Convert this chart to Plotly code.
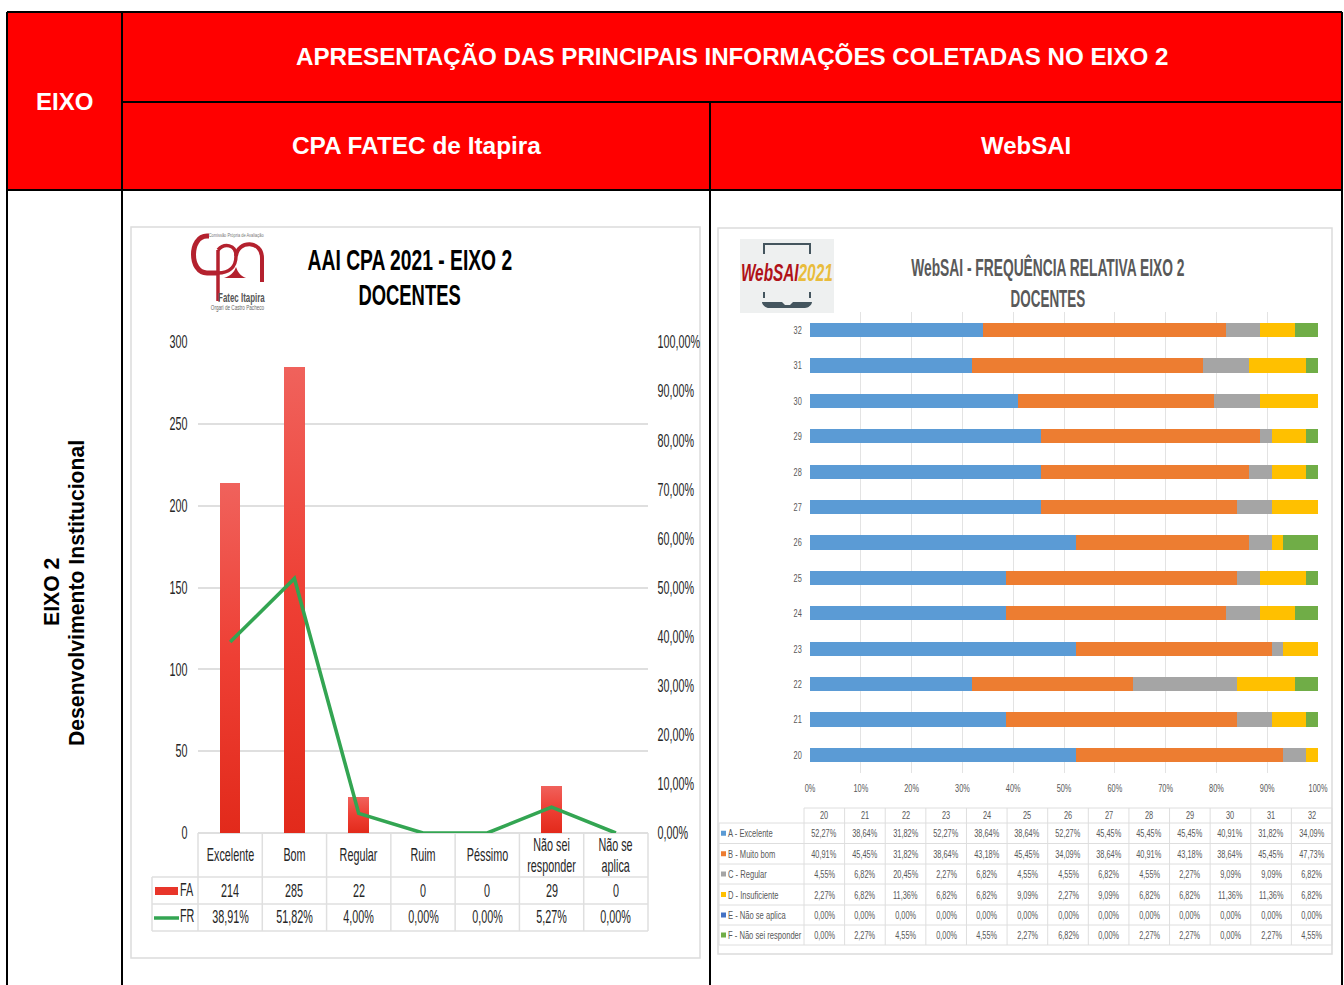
import json
import plotly.graph_objects as go

W, H = 1344, 985
ARIAL = "Liberation Sans, Arial, sans-serif"

# ---- data: left chart
cpa_categories = ["Excelente", "Bom", "Regular", "Ruim", "Péssimo", "Não sei responder", "Não se aplica"]
cpa_category_lines = [["Excelente"], ["Bom"], ["Regular"], ["Ruim"], ["Péssimo"], ["Não sei", "responder"], ["Não se", "aplica"]]
cpa_fa = [214, 285, 22, 0, 0, 29, 0]
cpa_fr = [38.91, 51.82, 4.00, 0.00, 0.00, 5.27, 0.00]
cpa_fa_labels = ["214", "285", "22", "0", "0", "29", "0"]
cpa_fr_labels = ["38,91%", "51,82%", "4,00%", "0,00%", "0,00%", "5,27%", "0,00%"]
fr_tick_vals = [0, 10, 20, 30, 40, 50, 60, 70, 80, 90, 100]
fr_tick_text = ["0,00%", "10,00%", "20,00%", "30,00%", "40,00%", "50,00%", "60,00%", "70,00%", "80,00%", "90,00%", "100,00%"]
fa_tick_vals = [0, 50, 100, 150, 200, 250, 300]

# ---- data: right chart
questions = ["20", "21", "22", "23", "24", "25", "26", "27", "28", "29", "30", "31", "32"]
web_a = [52.27, 38.64, 31.82, 52.27, 38.64, 38.64, 52.27, 45.45, 45.45, 45.45, 40.91, 31.82, 34.09]
web_b = [40.91, 45.45, 31.82, 38.64, 43.18, 45.45, 34.09, 38.64, 40.91, 43.18, 38.64, 45.45, 47.73]
web_c = [4.55, 6.82, 20.45, 2.27, 6.82, 4.55, 4.55, 6.82, 4.55, 2.27, 9.09, 9.09, 6.82]
web_d = [2.27, 6.82, 11.36, 6.82, 6.82, 9.09, 2.27, 9.09, 6.82, 6.82, 11.36, 11.36, 6.82]
web_e = [0.00] * 13
web_f = [0.00, 2.27, 4.55, 0.00, 4.55, 2.27, 6.82, 0.00, 2.27, 2.27, 0.00, 2.27, 4.55]
web_names = ["A - Excelente", "B - Muito bom", "C - Regular", "D - Insuficiente", "E - Não se aplica", "F - Não sei responder"]
web_series = [web_a, web_b, web_c, web_d, web_e, web_f]
web_colors = ["#5B9BD5", "#ED7D31", "#A5A5A5", "#FFC000", "#4472C4", "#70AD47"]
web_tick_vals = [0, 10, 20, 30, 40, 50, 60, 70, 80, 90, 100]
web_tick_text = ["0%", "10%", "20%", "30%", "40%", "50%", "60%", "70%", "80%", "90%", "100%"]


def px(x):
    return x / W


def py(y):
    return 1 - y / H


shapes, annotations, squeeze = [], [], {}


def rect(x0, y0, x1, y1, fill=None, line=None, lw=1, layer="below"):
    shapes.append(dict(type="rect", xref="paper", yref="paper", x0=px(x0), x1=px(x1), y0=py(y0), y1=py(y1),
                       fillcolor=fill or "rgba(0,0,0,0)", line=dict(color=line or "rgba(0,0,0,0)", width=lw if line else 0), layer=layer))


def seg(x0, y0, x1, y1, color, lw=1, layer="below"):
    shapes.append(dict(type="line", xref="paper", yref="paper", x0=px(x0), x1=px(x1), y0=py(y0), y1=py(y1),
                       line=dict(color=color, width=lw), layer=layer))


def path(points, color, lw=0, fill=None, close=False, layer="above"):
    d = "".join(p if isinstance(p, str) else f"{px(p[0]):.5f},{py(p[1]):.5f} " for p in points)
    if close:
        d += "Z"
    shapes.append(dict(type="path", xref="paper", yref="paper", path=d, fillcolor=fill or "rgba(0,0,0,0)",
                       line=dict(color=color, width=lw), layer=layer))


def text(x, y, s, size, color="#000000", bold=False, italic=False, anchor="center", angle=0, sq=None):
    if bold:
        s = f"<b>{s}</b>"
    if italic:
        s = f"<i>{s}</i>"
    if sq:
        squeeze[len(annotations)] = [sq, anchor]
    annotations.append(dict(x=px(x), y=py(y), xref="paper", yref="paper", text=s, showarrow=False, xanchor=anchor,
                            yanchor="middle", textangle=angle, font=dict(family=ARIAL, size=size, color=color),
                            borderpad=0, borderwidth=0))


# ---- outer Word-like table
RED = "#FF0000"
rect(7, 12, 1342, 190, fill=RED)
BLK = "#000000"
seg(7, 12, 1342, 12, BLK, 2)
seg(7, 190, 1342, 190, BLK, 2)
seg(122, 102, 1342, 102, BLK, 2)
seg(7, 12, 7, 985, BLK, 2)
seg(122, 12, 122, 985, BLK, 2)
seg(710, 102, 710, 985, BLK, 2)
seg(1342, 12, 1342, 985, BLK, 2)
text(64, 101, "EIXO", 24, "#FFFFFF", True)
text(731.5, 57, "APRESENTAÇÃO DAS PRINCIPAIS INFORMAÇÕES COLETADAS NO EIXO 2", 24.17, "#FFFFFF", True)
text(416, 146, "CPA FATEC de Itapira", 24.4, "#FFFFFF", True)
text(1026, 146, "WebSAI", 24, "#FFFFFF", True)
text(51, 592, "EIXO 2", 21.2, "#000000", True, angle=-90)
text(76, 593, "Desenvolvimento Institucional", 21.2, "#000000", True, angle=-90)

# ---- panels
GRID = "#DFDFDF"
rect(131, 227, 700, 958, fill="#FFFFFF", line="#DCDCDC", lw=1.5)
rect(718, 228, 1332, 954, fill="#FFFFFF", line="#DCDCDC", lw=1.5)

# ---- left titles + CPA logo
text(409.5, 260, "AAI CPA 2021 - EIXO 2", 29, "#000000", True, sq=0.665)
text(409.5, 295, "DOCENTES", 29, "#000000", True, sq=0.635)
LOGO = "#B4212E"
path(["M", (209, 236), "L", (207, 236), "C", (189, 236), (189, 273), (207, 273), "L", (218, 273)], LOGO, 5)
seg(218, 250, 218, 301, LOGO, 3.5, "above")
path(["M", (218, 250), "C", (224, 243), (236, 244), (236, 256), "C", (236, 268), (228, 273), (218, 273)], LOGO, 3.5)
path(["M", (236, 256), "C", (238, 240), (262, 240), (262, 258), "L", (262, 282)], LOGO, 4)
path(["M", (224, 278), "L", (246, 278), "C", (241, 276), (238, 273), (236, 267), "C", (234, 273), (230, 276), (224, 278)], LOGO, 0, fill=LOGO, close=True)
text(236, 235, "Comissão Própria de Avaliação", 5.5, "#777777", sq=0.72)
text(241, 298, "Fatec Itapira", 12, "#555555", True, sq=0.66)
text(237, 308, "Orgari de Castro Pacheco", 7, "#666666", sq=0.66)

# ---- right title + WebSAI logo
text(1048, 267.5, "WebSAI - FREQUÊNCIA RELATIVA EIXO 2", 23, "#595959", True, sq=0.60)
text(1048, 298.5, "DOCENTES", 23, "#595959", True, sq=0.585)
rect(740, 239, 834, 313, fill="#EEF0F0", layer="above")
SLATE = "#44555E"
path(["M", (764, 254), "L", (764, 244), "L", (810, 244), "L", (810, 254)], SLATE, 2)
seg(764, 292, 764, 298, SLATE, 2, "above")
seg(810, 292, 810, 298, SLATE, 2, "above")
path(["M", (762, 302), "L", (782, 302), "L", (785, 305), "L", (790, 305), "L", (793, 302), "L", (812, 302),
      "C", (812, 305), (808, 308), (805, 308), "L", (769, 308), "C", (766, 308), (762, 305), (762, 302)], SLATE, 0, fill=SLATE, close=True)
squeeze[len(annotations)] = [0.64, "center"]
annotations.append(dict(x=px(787), y=py(273), xref="paper", yref="paper", showarrow=False, xanchor="center", yanchor="middle",
                        text='<b><i><span style="color:#B01218">WebSAI</span><span style="color:#E9BC3B">2021</span></i></b>',
                        font=dict(family=ARIAL, size=24)))

# ---- left chart table (category and value rows)
L0, L1, CW = 198, 648, 450 / 7
SQ_L = 0.6
seg(L0, 833, L0, 931, GRID, 1.5)
for i in range(1, 8):
    seg(L0 + i * CW, 833, L0 + i * CW, 931, GRID, 1.5)
seg(152, 877, 152, 931, GRID, 1.5)
seg(152, 877, L1, 877, GRID, 1.5)
seg(152, 904, L1, 904, GRID, 1.5)
seg(152, 931, L1, 931, GRID, 1.5)
TXT = "#262626"
for i, lines in enumerate(cpa_category_lines):
    cx = L0 + (i + 0.5) * CW
    if len(lines) == 1:
        text(cx, 855, lines[0], 18, TXT, sq=SQ_L)
    else:
        text(cx, 845, lines[0], 18, TXT, sq=SQ_L)
        text(cx, 866, lines[1], 18, TXT, sq=SQ_L)
    text(cx, 891, cpa_fa_labels[i], 18, TXT, sq=SQ_L)
    text(cx, 917, cpa_fr_labels[i], 18, TXT, sq=SQ_L)
rect(155, 887, 178, 895, fill="#E8352A")
seg(154, 918, 179, 918, "#33A552", 3.5)
text(180, 890, "FA", 18, TXT, anchor="left", sq=SQ_L)
text(180, 916, "FR", 18, TXT, anchor="left", sq=SQ_L)

# ---- right chart table
T0, TW = 804, 528 / 13
SQ_R = 0.67
TG = "#DEDEDE"
rows_y = [808, 823, 843.5, 864, 884, 905, 925, 945]
seg(804, 808, 1332, 808, TG, 1)
for y in rows_y[1:]:
    seg(719, y, 1332, y, TG, 1)
for i in range(14):
    seg(T0 + i * TW, 808, T0 + i * TW, 945, TG, 1)
seg(719, 823, 719, 945, TG, 1)
TT = "#595959"
for i, q in enumerate(questions):
    cx = T0 + (i + 0.5) * TW
    text(cx, 815, q, 11, TT, sq=SQ_R)
    for r, s in enumerate(web_series):
        text(cx, (rows_y[r + 1] + rows_y[r + 2]) / 2, f"{s[i]:.2f}%".replace(".", ","), 11, TT, sq=SQ_R)
for r, n in enumerate(web_names):
    y = (rows_y[r + 1] + rows_y[r + 2]) / 2
    rect(721, y - 2.5, 726, y + 2.5, fill=web_colors[r])
    text(728, y, n, 11, TT, anchor="left", sq=0.69)

fig = go.Figure()
fig.add_trace(go.Bar(x=cpa_categories, y=cpa_fa, name="FA", width=0.32, marker=dict(color="#E8352A", line_width=0),
                     xaxis="x", yaxis="y", showlegend=False))
fig.add_trace(go.Scatter(x=cpa_categories, y=cpa_fr, name="FR", mode="lines", line=dict(color="#33A552", width=3.6),
                         xaxis="x", yaxis="y2", showlegend=False, cliponaxis=False))
for n, s, c in zip(web_names, web_series, web_colors):
    fig.add_trace(go.Bar(y=questions, x=s, name=n, orientation="h", width=0.4, marker=dict(color=c, line_width=0),
                         xaxis="x3", yaxis="y3", showlegend=False))

fig.update_layout(
    width=W, height=H, margin=dict(l=0, r=0, t=0, b=0, pad=0, autoexpand=False), autosize=False,
    paper_bgcolor="rgba(0,0,0,0)", plot_bgcolor="rgba(0,0,0,0)",
    barmode="stack", font=dict(family=ARIAL), shapes=shapes, annotations=annotations,
    xaxis=dict(domain=[px(198), px(648)], type="category", categoryorder="array", categoryarray=cpa_categories,
               range=[-0.5, 6.5], showticklabels=False, ticks="", showgrid=False, zeroline=False, showline=False, anchor="y"),
    yaxis=dict(domain=[py(833), py(342)], range=[0, 300], tickvals=fa_tick_vals, showgrid=True,
               gridcolor=GRID, gridwidth=1.6, zeroline=True, zerolinecolor=GRID, zerolinewidth=1.6, ticks="outside", ticklen=6,
               tickcolor="rgba(0,0,0,0)", tickfont=dict(family=ARIAL, size=18, color=TXT), anchor="x"),
    yaxis2=dict(domain=[py(833), py(342)], range=[0, 100], overlaying="y", side="right", anchor="x", showgrid=False,
                zeroline=False, tickvals=fr_tick_vals, ticktext=fr_tick_text, ticks="outside",
                ticklen=5, tickcolor="rgba(0,0,0,0)", tickfont=dict(family=ARIAL, size=18, color=TXT)),
    xaxis3=dict(domain=[px(810), px(1318)], range=[0, 100], anchor="y3", tickvals=web_tick_vals, ticktext=web_tick_text,
                showgrid=True, gridcolor="#E3E3E3", gridwidth=1, zeroline=False, showline=False, ticks="outside", ticklen=5,
                tickcolor="rgba(0,0,0,0)", tickfont=dict(family=ARIAL, size=11, color=TT)),
    yaxis3=dict(domain=[py(772.7), py(312.3)], type="category", categoryorder="array", categoryarray=questions,
                range=[-0.5, 12.5], anchor="x3", showgrid=False, zeroline=False, ticks="outside", ticklen=5,
                tickcolor="rgba(0,0,0,0)", tickfont=dict(family=ARIAL, size=11, color=TT)),
)

# page reset, gradient on the first chart's bars, and the condensed look of the pasted chart images
post = """
document.body.style.margin='0';
document.documentElement.style.overflow='hidden';
var gd=document.querySelector('.js-plotly-plot');
var svg=gd.querySelector('.main-svg');
var ns='http://www.w3.org/2000/svg';
var g=document.createElementNS(ns,'linearGradient');
g.setAttribute('id','faFade');g.setAttribute('x1','0');g.setAttribute('y1','0');g.setAttribute('x2','0');g.setAttribute('y2','1');
[['0','#F0625C'],['0.5','#EE3F34'],['1','#E22A1B']].forEach(function(p){var s=document.createElementNS(ns,'stop');s.setAttribute('offset',p[0]);s.setAttribute('stop-color',p[1]);g.appendChild(s);});
svg.querySelector('defs').appendChild(g);
gd.querySelectorAll('.barlayer .trace')[0].querySelectorAll('path').forEach(function(p){p.style.fill='url(#faFade)';});
function sq(el,s,mode){
  var b=el.getBBox();
  var ax=mode==='left'?b.x:(mode==='right'?b.x+b.width:b.x+b.width/2);
  var t=el.getAttribute('transform')||'';
  el.setAttribute('transform',t+' translate('+ax+',0) scale('+s+',1) translate('+(-ax)+',0)');
}
var SQ=__SQ__;
gd.querySelectorAll('.annotation').forEach(function(a){
  var i=a.getAttribute('data-index');
  if(SQ[i]){var t=a.querySelector('text');sq(t,SQ[i][0],SQ[i][1]);}
});
gd.querySelectorAll('g.ytick text').forEach(function(t){sq(t,0.6,'right');});
gd.querySelectorAll('g.y2tick text').forEach(function(t){sq(t,0.6,'left');});
gd.querySelectorAll('g.x3tick text').forEach(function(t){sq(t,0.67,'center');});
gd.querySelectorAll('g.y3tick text').forEach(function(t){sq(t,0.67,'right');});
""".replace("__SQ__", json.dumps(squeeze))
fig.write_html("out.html", post_script=post, config=dict(displayModeBar=False))
